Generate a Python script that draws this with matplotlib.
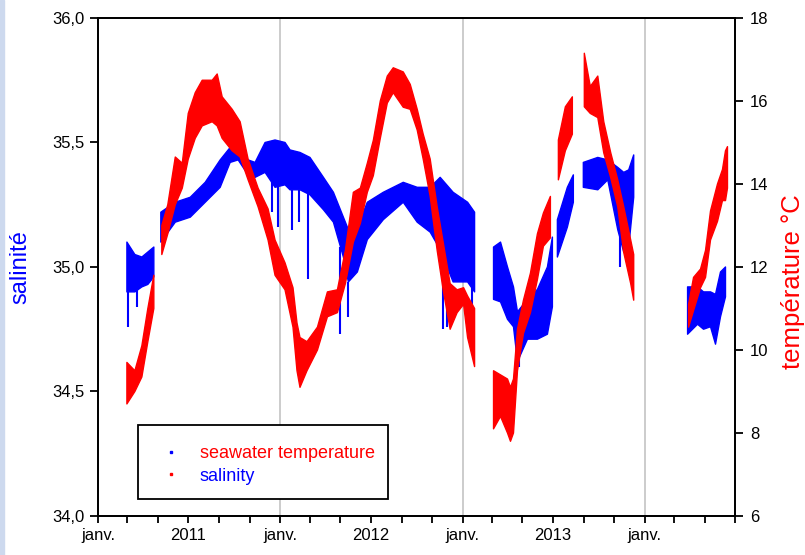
#!/usr/bin/env python3

"""Salinity and seawater temperature time series, 2011-2014."""

import numpy as np
import pandas as pd
import matplotlib
matplotlib.use("Agg")
import matplotlib.pyplot as plt
import matplotlib.dates as mdates
from matplotlib.lines import Line2D
from matplotlib.patches import Rectangle
from matplotlib.ticker import FuncFormatter

plt.rcParams['font.family'] = ['Liberation Sans', 'DejaVu Sans']

NA = np.nan

# salinity band (low / high envelope of the readings), NaN = no data
sal_dates = ['2011-02-28', '2011-03-16', '2011-03-30', '2011-04-11', '2011-04-23',
             '2011-04-30',
             '2011-05-07', '2011-06-05', '2011-07-05', '2011-08-04', '2011-09-03',
             '2011-09-23', '2011-10-09', '2011-10-29', '2011-11-12', '2011-12-02',
             '2011-12-22', '2012-01-11', '2012-01-21', '2012-02-10', '2012-03-01',
             '2012-03-28', '2012-04-17', '2012-05-07', '2012-05-17', '2012-06-04',
             '2012-06-24', '2012-07-26', '2012-09-04', '2012-10-02', '2012-10-28',
             '2012-11-17', '2012-12-13', '2013-01-11', '2013-01-25',
             '2013-02-15',
             '2013-03-04', '2013-03-18', '2013-04-01', '2013-04-13', '2013-04-21',
             '2013-05-11', '2013-05-31', '2013-06-20', '2013-06-30',
             '2013-07-05',
             '2013-07-10', '2013-07-30', '2013-08-11',
             '2013-08-21',
             '2013-08-31', '2013-09-29', '2013-10-19', '2013-11-08', '2013-11-20',
             '2013-11-30', '2013-12-10',
             '2014-01-15',
             '2014-03-28', '2014-04-17', '2014-04-29', '2014-05-13', '2014-05-23',
             '2014-06-02', '2014-06-12']
sal_lo = [34.90, 34.90, 34.92, 34.93, 34.96,
          NA,
          35.10, 35.18, 35.20, 35.26, 35.32,
          35.42, 35.43, 35.37, 35.36, 35.38,
          35.32, 35.33, 35.31, 35.31, 35.29,
          35.23, 35.18, 35.04, 34.94, 34.98,
          35.11, 35.19, 35.26, 35.18, 35.14,
          35.07, 34.94, 34.94, 34.90,
          NA,
          34.87, 34.86, 34.79, 34.76, 34.62,
          34.71, 34.71, 34.73, 34.84,
          NA,
          35.04, 35.16, 35.26,
          NA,
          35.32, 35.31, 35.35, 35.15, 35.06,
          35.08, 35.28,
          NA,
          34.73, 34.77, 34.75, 34.76, 34.69,
          34.80, 34.88]
sal_hi = [35.10, 35.05, 35.04, 35.06, 35.08,
          NA,
          35.22, 35.26, 35.28, 35.34, 35.43,
          35.48, 35.48, 35.43, 35.42, 35.50,
          35.51, 35.50, 35.47, 35.46, 35.44,
          35.36, 35.30, 35.20, 35.15, 35.16,
          35.26, 35.30, 35.34, 35.32, 35.32,
          35.36, 35.30, 35.26, 35.22,
          NA,
          35.08, 35.10, 35.00, 34.92, 34.82,
          34.87, 34.91, 35.00, 35.12,
          NA,
          35.19, 35.32, 35.37,
          NA,
          35.42, 35.44, 35.43, 35.40, 35.38,
          35.39, 35.45,
          NA,
          34.92, 34.92, 34.90, 34.90, 34.89,
          34.98, 35.00]

# isolated low salinity readings below the band
sal_drop_dates = ['2011-03-03', '2011-03-20', '2011-12-15', '2011-12-27',
                  '2012-01-25', '2012-02-08', '2012-02-26', '2012-05-01',
                  '2012-05-17', '2012-11-23', '2012-12-01', '2013-01-20',
                  '2013-04-25', '2013-11-12']
sal_drop = [34.76, 34.84, 35.22, 35.16,
            35.15, 35.18, 34.95, 34.73,
            34.80, 34.75, 34.76, 34.84,
            34.60, 35.00]

# seawater temperature band in degrees C
temp_dates = ['2011-02-28', '2011-03-16', '2011-03-30', '2011-04-11', '2011-04-23',
              '2011-04-30',
              '2011-05-09', '2011-05-21', '2011-06-05', '2011-06-19', '2011-07-01',
              '2011-07-15', '2011-07-29', '2011-08-18', '2011-08-28', '2011-09-07',
              '2011-09-27', '2011-10-13', '2011-10-29', '2011-11-18', '2011-12-08',
              '2011-12-22', '2012-01-11', '2012-01-27', '2012-02-04', '2012-02-10',
              '2012-02-24', '2012-03-16', '2012-04-05', '2012-04-25', '2012-05-11',
              '2012-05-27', '2012-06-10', '2012-06-24', '2012-07-06', '2012-07-20',
              '2012-08-03', '2012-08-15', '2012-09-04', '2012-09-18', '2012-10-02',
              '2012-10-14', '2012-10-28', '2012-11-11', '2012-11-23', '2012-12-07',
              '2012-12-21', '2013-01-03', '2013-01-11', '2013-01-25',
              '2013-02-15',
              '2013-03-04', '2013-03-18', '2013-04-01', '2013-04-07', '2013-04-13',
              '2013-04-21', '2013-05-03', '2013-05-17', '2013-05-31', '2013-06-12',
              '2013-06-26',
              '2013-07-04',
              '2013-07-12', '2013-07-26', '2013-08-09',
              '2013-08-21',
              '2013-09-02', '2013-09-14', '2013-09-29', '2013-10-11', '2013-10-25',
              '2013-11-08', '2013-11-20', '2013-12-04', '2013-12-10',
              '2014-01-15',
              '2014-03-30', '2014-04-09', '2014-04-23', '2014-05-03', '2014-05-13',
              '2014-05-27', '2014-06-06', '2014-06-12', '2014-06-16']
temp_lo = [8.70, 9.00, 9.35, 10.20, 11.00,
           NA,
           12.30, 12.80, 13.50, 13.90, 14.60,
           15.10, 15.40, 15.50, 15.40, 15.10,
           14.80, 14.65, 14.10, 13.45, 12.65,
           11.80, 11.45, 10.55, 9.50, 9.10,
           9.50, 10.00, 10.80, 10.90, 11.60,
           12.60, 13.05, 13.80, 14.20, 15.10,
           15.95, 16.20, 15.85, 15.80, 15.30,
           14.60, 13.70, 12.40, 11.45, 10.50,
           10.90, 11.10, 10.30, 9.60,
           NA,
           8.10, 8.40, 8.00, 7.80, 8.00,
           9.50, 10.40, 10.90, 11.70, 12.50,
           12.70,
           NA,
           14.10, 14.80, 15.20,
           NA,
           15.86, 15.70, 15.60, 14.75, 14.15,
           13.45, 12.35, 11.60, 11.20,
           NA,
           10.55, 10.95, 11.50, 11.75, 12.65,
           13.10, 13.60, 13.60, 13.90]
temp_hi = [9.70, 9.50, 10.10, 11.00, 11.80,
           NA,
           13.00, 13.50, 14.65, 14.50, 15.70,
           16.20, 16.50, 16.50, 16.65, 16.10,
           15.80, 15.50, 14.60, 13.90, 13.40,
           12.65, 12.10, 11.50, 10.65, 10.30,
           10.20, 10.55, 11.40, 11.45, 12.40,
           13.80, 13.90, 14.50, 15.05, 16.00,
           16.60, 16.80, 16.70, 16.40, 15.80,
           15.20, 14.60, 13.45, 12.60, 11.60,
           11.45, 11.50, 11.30, 11.00,
           NA,
           9.50, 9.40, 9.30, 9.10, 9.30,
           10.50, 11.20, 11.85, 12.80, 13.30,
           13.70,
           NA,
           15.06, 15.86, 16.10,
           NA,
           17.15, 16.35, 16.60, 15.50, 14.75,
           14.10, 13.45, 12.65, 12.30,
           NA,
           11.10, 11.75, 11.95, 12.40, 13.35,
           14.00, 14.35, 14.80, 14.90]

years_jan = ['2012-01-01', '2013-01-01', '2014-01-01']

sal_t = pd.to_datetime(sal_dates)
temp_t = pd.to_datetime(temp_dates)
drop_t = pd.to_datetime(sal_drop_dates)

fig = plt.figure(figsize=(8.05, 5.55), dpi=100)
ax = fig.add_axes([0.1217, 0.0703, 0.7913, 0.8973])
ax2 = ax.twinx()

# thin light strip along the left edge of the page
fig.patches.append(Rectangle((0, 0), 4 / 805, 1, transform=fig.transFigure,
                             color='#cdd9ee', zorder=0))

for d in years_jan:
    ax.axvline(pd.Timestamp(d), color='#c8c8c8', lw=1.3, zorder=0)

sal_lo_arr = np.array(sal_lo, float)
sal_hi_arr = np.array(sal_hi, float)
ax.fill_between(sal_t, sal_lo_arr, sal_hi_arr, color='#0000ff', lw=1.0, zorder=2)

# drops hang from the bottom of the band at the same date
band_bottom = np.interp(drop_t.values.astype('int64'),
                        sal_t.values.astype('int64'),
                        np.where(np.isnan(sal_lo_arr), 36.0, sal_lo_arr))
ax.vlines(drop_t, sal_drop, band_bottom, color='#0000ff', lw=1.5, zorder=2)

ax2.fill_between(temp_t, np.array(temp_lo, float), np.array(temp_hi, float),
                 color='#ff0000', lw=1.0, zorder=2)

ax.set_xlim(pd.Timestamp('2011-01-01'), pd.Timestamp('2014-07-01'))
ax.set_ylim(34.0, 36.0)
ax2.set_ylim(6, 18)
ax.set_yticks(np.arange(34.0, 36.01, 0.5))
ax2.set_yticks(np.arange(6, 19, 2))
ax.yaxis.set_major_formatter(FuncFormatter(lambda v, p: f"{v:.1f}".replace('.', ',')))


def month_label(v, pos):
    d = mdates.num2date(v)
    if d.month == 1:
        return 'janv.'
    if d.month == 7 and d.year < 2014:
        return str(d.year)
    return ''


ax.xaxis.set_major_locator(mdates.MonthLocator(bymonth=[1, 3, 5, 7, 9, 11]))
ax.xaxis.set_major_formatter(FuncFormatter(month_label))

for a in (ax, ax2):
    for s in a.spines.values():
        s.set_linewidth(1.3)
ax.tick_params(axis='x', direction='out', length=5, width=1.3, pad=4, labelsize=12)
ax.tick_params(axis='y', direction='out', length=6, width=1.3, pad=4, labelsize=12)
ax2.tick_params(axis='y', direction='out', length=6, width=1.3, pad=5, labelsize=12)

ax.set_ylabel('salinité', color='#0000ff', fontsize=17)
ax.yaxis.set_label_coords(-0.105, 0.5)
ax2.set_ylabel('température °C', color='#ff0000', fontsize=18.5, rotation=90)
ax2.yaxis.set_label_coords(1.072, 0.47)

# legend: frame drawn as its own rectangle
ax2.add_patch(Rectangle((0.0628, 0.0341), 0.3925, 0.1486, transform=ax2.transAxes,
                        fill=True, facecolor='white', edgecolor='black', lw=1.3,
                        zorder=5))
handles = [Line2D([], [], ls='none', marker='s', ms=2.0, color='#0000ff'),
           Line2D([], [], ls='none', marker='s', ms=2.0, color='#ff0000')]
leg = ax2.legend(handles, ['seawater temperature', 'salinity'],
                 loc='upper left', bbox_to_anchor=(0.103, 0.142), frameon=False,
                 fontsize=13, borderpad=0, handlelength=0.8, handletextpad=1.2,
                 labelspacing=0.3, borderaxespad=0)
leg.set_zorder(6)
leg.get_texts()[0].set_color('#ff0000')
leg.get_texts()[1].set_color('#0000ff')

fig.savefig('out.png', dpi=100)
